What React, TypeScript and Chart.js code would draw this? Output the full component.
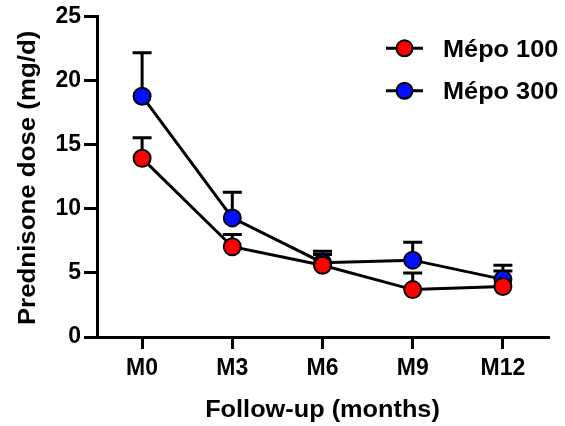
import React, { useEffect, useRef } from "react";
import { Chart, registerables } from "chart.js";

Chart.register(...registerables);

const categories = ["M0", "M3", "M6", "M9", "M12"];
const seriesNames = ["Mépo 100", "Mépo 300"];
const mepo100 = [13.95, 7.05, 5.6, 3.7, 3.95];
const mepo100Err = [1.6, 0.95, 0.85, 1.3, 1.2];
const mepo300 = [18.8, 9.3, 5.8, 6.0, 4.5];
const mepo300Err = [3.4, 2.0, 0.9, 1.4, 1.1];
const yTicks = [0, 5, 10, 15, 20, 25];
const xTitle = "Follow-up (months)";
const yTitle = "Prednisone dose (mg/d)";
const colors = ["#ff0000", "#0010ff"];

const FONT = "'Liberation Sans', Arial, sans-serif";
const STRETCH = 1.1;

function drawText(ctx: CanvasRenderingContext2D, text: string, x: number, y: number, size: number, align: CanvasTextAlign, rotate = 0) {
  ctx.save();
  ctx.translate(x, y);
  if (rotate) ctx.rotate(rotate);
  ctx.scale(STRETCH, 1);
  ctx.font = `bold ${size}px ${FONT}`;
  ctx.fillStyle = "#000";
  ctx.textAlign = align;
  ctx.textBaseline = "alphabetic";
  ctx.fillText(text, 0, 0);
  ctx.restore();
}

const errorBarPlugin = {
  id: "errorBars",
  beforeDatasetsDraw(chart: any) {
    const ctx = chart.ctx;
    const errs = [mepo100Err, mepo300Err];
    const yScale = chart.scales.y;
    ctx.save();
    ctx.strokeStyle = "#000";
    ctx.lineWidth = 3;
    ctx.lineCap = "butt";
    for (let d = chart.data.datasets.length - 1; d >= 0; d--) {
      const meta = chart.getDatasetMeta(d);
      const vals = chart.data.datasets[d].data as number[];
      meta.data.forEach((pt: any, i: number) => {
        const x = pt.x;
        const y0 = yScale.getPixelForValue(vals[i]);
        const y1 = yScale.getPixelForValue(vals[i] + errs[d][i]);
        ctx.beginPath();
        ctx.moveTo(x, y0);
        ctx.lineTo(x, y1);
        ctx.moveTo(x - 9.5, y1);
        ctx.lineTo(x + 9.5, y1);
        ctx.stroke();
      });
    }
    ctx.restore();
  },
};

const textPlugin = {
  id: "texts",
  afterDraw(chart: any) {
    const ctx = chart.ctx as CanvasRenderingContext2D;
    const area = chart.chartArea;
    // axis titles
    drawText(ctx, xTitle, (area.left + area.right) / 2, 417, 23, "center");
    drawText(ctx, yTitle, 35, (area.top + area.bottom) / 2 + 1, 23.5, "center", -Math.PI / 2);
    // legend
    const x0 = area.right - 162;
    seriesNames.forEach((name, i) => {
      const y = area.top + 31.5 + i * 42.5;
      ctx.save();
      ctx.strokeStyle = "#000";
      ctx.lineWidth = 3;
      ctx.beginPath();
      ctx.moveTo(x0, y);
      ctx.lineTo(x0 + 37, y);
      ctx.stroke();
      ctx.beginPath();
      ctx.arc(x0 + 18.5, y, 8, 0, Math.PI * 2);
      ctx.fillStyle = colors[i];
      ctx.fill();
      ctx.lineWidth = 2;
      ctx.stroke();
      ctx.restore();
      drawText(ctx, name, x0 + 57, y + 8.5, 23, "left");
    });
  },
};

export default function App() {
  const ref = useRef<HTMLCanvasElement>(null);
  useEffect(() => {
    document.body.style.margin = "0";
    const chart = new Chart(ref.current!, {
      type: "line",
      data: {
        labels: categories,
        datasets: [
          {
            label: seriesNames[0],
            data: mepo100,
            borderColor: "#000",
            borderWidth: 3,
            pointBackgroundColor: colors[0],
            pointBorderColor: "#000",
            pointBorderWidth: 2,
            pointRadius: 8.5,
            tension: 0,
          },
          {
            label: seriesNames[1],
            data: mepo300,
            borderColor: "#000",
            borderWidth: 3,
            pointBackgroundColor: colors[1],
            pointBorderColor: "#000",
            pointBorderWidth: 2,
            pointRadius: 8.5,
            tension: 0,
          },
        ],
      },
      options: {
        animation: false,
        responsive: false,
        maintainAspectRatio: false,
        layout: { padding: { top: 16, right: 17, left: 0, bottom: 0 } },
        plugins: { legend: { display: false }, tooltip: { enabled: false } },
        scales: {
          x: {
            type: "category",
            offset: true,
            border: { color: "#000", width: 3 },
            grid: {
              display: true,
              drawOnChartArea: false,
              drawTicks: true,
              tickLength: 12,
              color: "#000",
              lineWidth: 3,
              offset: false,
            },
            ticks: {
              color: "#000",
              font: { family: FONT, size: 23, weight: "bold" },
              padding: 6,
              maxRotation: 0,
            },
            title: { display: false },
            afterFit(scale: any) {
              scale.height = 89;
            },
          },
          y: {
            min: 0,
            max: 25,
            border: { color: "#000", width: 3 },
            grid: {
              display: true,
              drawOnChartArea: false,
              drawTicks: true,
              tickLength: 13,
              color: "#000",
              lineWidth: 3,
            },
            afterBuildTicks(scale: any) {
              scale.ticks = yTicks.map((v) => ({ value: v }));
            },
            ticks: {
              color: "#000",
              font: { family: FONT, size: 23, weight: "bold" },
              padding: 3,
            },
            title: { display: false },
            afterFit(scale: any) {
              scale.width = 97;
            },
          },
        },
      },
      plugins: [errorBarPlugin, textPlugin],
    } as any);
    return () => chart.destroy();
  }, []);
  return (
    <div style={{ width: 565, height: 426 }}>
      <canvas ref={ref} width={565} height={426} />
    </div>
  );
}
